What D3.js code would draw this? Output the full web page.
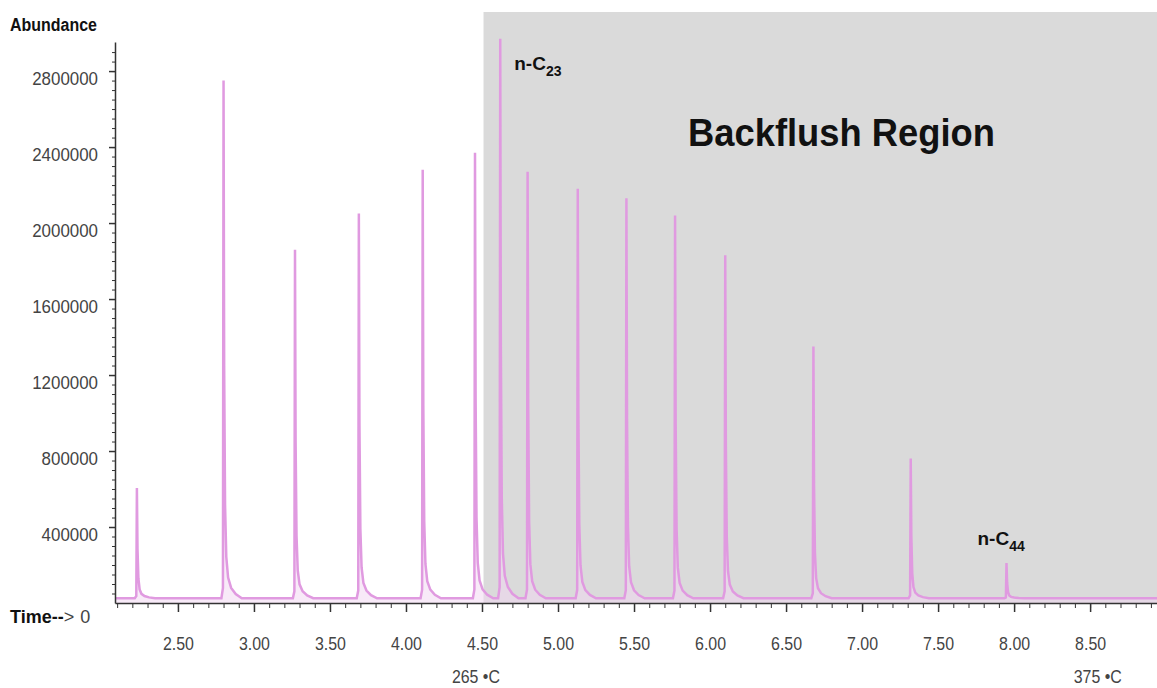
<!DOCTYPE html>
<html>
<head>
<meta charset="utf-8">
<script src="https://cdn.jsdelivr.net/npm/d3@7"></script>
<style>
  body { margin: 0; background: #fff; }
  svg { display: block; font-family: "Liberation Sans", Arial, sans-serif; }
  .tick text { fill: #444; font-size: 19px; }
</style>
</head>
<body>
<div id="chart"></div>
<script>
// peak apex times (min) and apex abundance
var peakTimes = [2.23, 2.80, 3.27, 3.69, 4.11, 4.454, 4.62, 4.80, 5.13, 5.45, 5.77, 6.10, 6.68, 7.32, 7.95];
var peakApex  = [605000, 2750000, 1860000, 2050000, 2280000, 2370000, 2970000, 2270000, 2180000, 2130000, 2040000, 1830000, 1350000, 760000, 210000];
var baseline = 25000;

// one peak profile (offset from apex in min, fraction of height), read from the tails
var shapeDt   = [-0.014, -0.004, 0, 0.004, 0.01, 0.018, 0.03, 0.05, 0.08, 0.12];
var shapeFrac = [0, 0.02, 1, 0.45, 0.18, 0.08, 0.04, 0.02, 0.008, 0];

var xMajor = [2.5, 3.0, 3.5, 4.0, 4.5, 5.0, 5.5, 6.0, 6.5, 7.0, 7.5, 8.0, 8.5];
var yMajor = [400000, 800000, 1200000, 1600000, 2000000, 2400000, 2800000];

var backflushStart = 4.51;
var tempLabels = ["265 \u2022C", "375 \u2022C"];
var tempTimes = [4.46, 8.55];

var width = 1157, height = 688;
var svg = d3.select("#chart").append("svg")
    .attr("width", width)
    .attr("height", height);

var x = d3.scaleLinear().domain([2.086, 8.94]).range([115, 1157]);
var y = d3.scaleLinear().domain([0, 2953000]).range([603, 42]);

// backflush shading
svg.append("rect")
    .attr("x", x(backflushStart))
    .attr("y", 12)
    .attr("width", width - x(backflushStart))
    .attr("height", y(0) - 12)
    .attr("fill", "#dadada");

// build trace from the peak list
var trace = [[x.domain()[0], baseline]];
peakTimes.forEach(function(t, i) {
    var h = peakApex[i] - baseline;
    shapeDt.forEach(function(dt, j) {
        trace.push([t + dt, baseline + h * shapeFrac[j]]);
    });
});
trace.push([x.domain()[1], baseline]);

var area = d3.area()
    .x(function(d) { return x(d[0]); })
    .y0(y(0))
    .y1(function(d) { return y(d[1]); });
svg.append("path")
    .datum(trace)
    .attr("d", area)
    .attr("fill", "#f2d6f2")
    .attr("opacity", 0.5);

var line = d3.line()
    .x(function(d) { return x(d[0]); })
    .y(function(d) { return y(d[1]); });
svg.append("path")
    .datum(trace)
    .attr("d", line)
    .attr("fill", "none")
    .attr("stroke", "#e09ae0")
    .attr("stroke-width", 2.5);

// x axis: minor every 0.1, labelled every 0.5
var xMinor = d3.range(21, 90).map(function(d) { return d / 10; });
svg.append("g")
    .attr("transform", "translate(0," + y(0) + ")")
    .call(d3.axisBottom(x).tickValues(xMinor).tickSize(5).tickFormat(""))
    .call(function(g) { g.select(".domain").remove(); })
    .selectAll("line").attr("stroke", "#333");
var xg = svg.append("g")
    .attr("transform", "translate(0," + y(0) + ")")
    .call(d3.axisBottom(x).tickValues(xMajor).tickSize(9).tickSizeOuter(0)
        .tickFormat(d3.format(".2f")));
xg.select(".domain").attr("stroke", "#333").attr("stroke-width", 1.5);
xg.selectAll("line").attr("stroke", "#333").attr("stroke-width", 1.5);
xg.selectAll("text").attr("dy", "0").attr("y", 47)
    .attr("textLength", 31).attr("lengthAdjust", "spacingAndGlyphs");

// y axis
var yMinor = d3.range(50000, 2950000, 50000);
svg.append("g")
    .attr("transform", "translate(115,0)")
    .call(d3.axisLeft(y).tickValues(yMinor).tickSize(3).tickFormat(""))
    .call(function(g) { g.select(".domain").remove(); })
    .selectAll("line").attr("stroke", "#333");
var yg = svg.append("g")
    .attr("transform", "translate(115,0)")
    .call(d3.axisLeft(y).tickValues(yMajor).tickSize(6).tickSizeOuter(0)
        .tickFormat(d3.format("d")));
yg.select(".domain").attr("stroke", "#333").attr("stroke-width", 1.5);
yg.selectAll("line").attr("stroke", "#333").attr("stroke-width", 1.5);
yg.selectAll("text").attr("x", -17).attr("dy", "0.7em")
    .attr("textLength", function(d) { return String(d).length * 9.4; })
    .attr("lengthAdjust", "spacingAndGlyphs");

// axis titles
svg.append("text")
    .attr("x", 10).attr("y", 31)
    .attr("font-size", 18).attr("font-weight", "bold").attr("fill", "#111")
    .attr("textLength", 87).attr("lengthAdjust", "spacingAndGlyphs")
    .text("Abundance");

var tt = svg.append("text")
    .attr("x", 10).attr("y", 623)
    .attr("font-size", 18).attr("fill", "#111");
tt.append("tspan").attr("font-weight", "bold").text("Time--");
tt.append("tspan").attr("fill", "#444").text(">");
tt.append("tspan").attr("fill", "#444").attr("dx", 6).text("0");

// temperatures
svg.selectAll(".temp").data(tempLabels).enter().append("text")
    .attr("class", "temp")
    .attr("x", function(d, i) { return x(tempTimes[i]); })
    .attr("y", 683)
    .attr("text-anchor", "middle")
    .attr("font-size", 19).attr("fill", "#444")
    .attr("textLength", 48).attr("lengthAdjust", "spacingAndGlyphs")
    .text(function(d) { return d; });

// peak labels
function peakLabel(px, py, sub) {
    var t = svg.append("text")
        .attr("x", px).attr("y", py)
        .attr("font-size", 19).attr("font-weight", "bold").attr("fill", "#111");
    t.append("tspan").text("n-C");
    t.append("tspan").attr("font-size", 14).attr("dy", 6).text(sub);
}
peakLabel(x(peakTimes[6]) + 14, 70, "23");
peakLabel(x(peakTimes[14]) - 29, 545, "44");

svg.append("text")
    .attr("x", 688).attr("y", 146)
    .attr("font-size", 38).attr("font-weight", "bold").attr("fill", "#111")
    .attr("textLength", 307).attr("lengthAdjust", "spacingAndGlyphs")
    .text("Backflush Region");
</script>
</body>
</html>
